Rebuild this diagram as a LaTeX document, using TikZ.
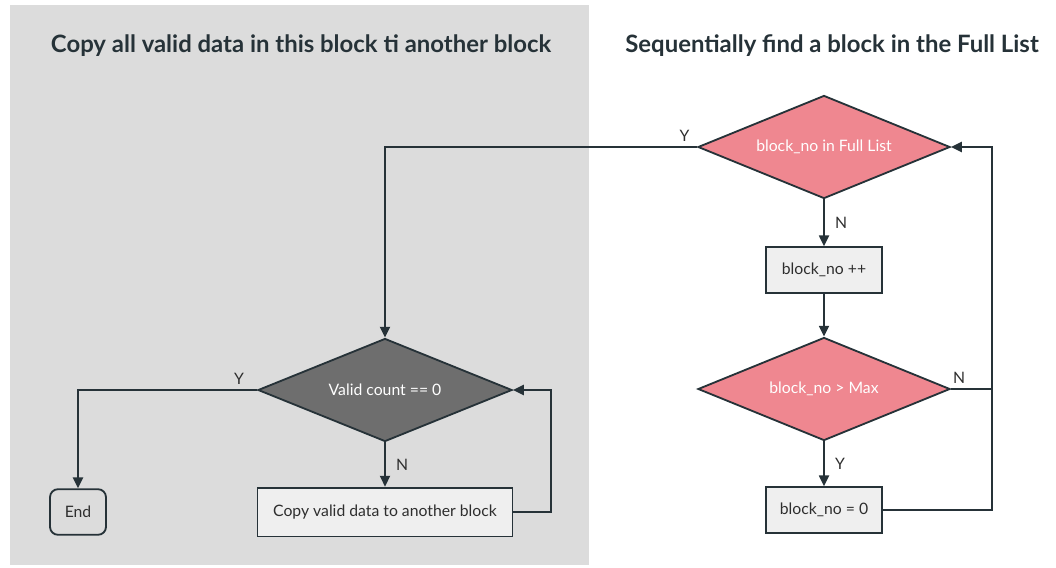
\documentclass[tikz,border=0pt]{standalone}
\usepackage{fontspec}
\setmainfont{Lato}
\usetikzlibrary{shapes.geometric,arrows.meta}
\definecolor{linecol}{HTML}{263238}
\definecolor{panelgray}{HTML}{DCDCDC}
\definecolor{pinkfill}{HTML}{EF8790}
\definecolor{darkfill}{HTML}{6E6E6E}
\definecolor{boxfill}{HTML}{EFEFEF}
\definecolor{textcol}{HTML}{2E2E2E}
\tikzset{
  title/.style={font=\bfseries\fontsize{17pt}{20pt}\selectfont, text=linecol},
  decision/.style={diamond, draw=linecol, line width=1.3pt, inner sep=0pt,
    aspect=2.45, minimum width=6.3cm, minimum height=2.575cm, text=white,
    font=\fontsize{11.2pt}{13pt}\selectfont},
  stepbox/.style={rectangle, draw=linecol, line width=1.3pt, fill=boxfill,
    minimum width=2.9cm, minimum height=1.14cm, text=textcol,
    font=\fontsize{11.2pt}{13pt}\selectfont},
  endbox/.style={stepbox, rounded corners=0.2cm, minimum width=1.4cm, fill=none},
  flow/.style={draw=linecol, line width=1.3pt, -{Triangle[length=0.27cm,width=0.25cm]}},
  plain/.style={draw=linecol, line width=1.3pt},
  lbl/.style={text=textcol, font=\fontsize{11.2pt}{13pt}\selectfont}
}
\begin{document}
\begin{tikzpicture}[x=0.025cm,y=-0.025cm]
  \useasboundingbox (0,0) rectangle (1056,567);
  \fill[panelgray] (10,5) rectangle (589,565);

  \node[title] (lefttitle) at (301,46) {Copy all valid data in this block ti another block};
  \node[title] (righttitle) at (832,46) {Sequentially find a block in the Full List};

  \node[decision, fill=pinkfill] (infull) at (824,147) {block\_no in Full List};
  \node[stepbox] (incr) at (824,270) {block\_no ++};
  \node[decision, fill=pinkfill] (overmax) at (824,389) {block\_no > Max};
  \node[stepbox] (reset) at (824,510) {block\_no = 0};

  \node[decision, fill=darkfill, minimum width=6.35cm] (validzero) at (385,390) {Valid count == 0};
  \node[endbox] (end) at (78,512) {End};
  \node[stepbox, minimum width=6.375cm, minimum height=1.22cm] (copy) at (385,512) {Copy valid data to another block};

  \coordinate (rightloop) at (992,147);
  \coordinate (leftloop) at (551,390);

  \draw[flow] (infull.south) -- node[lbl, right=4pt] {N} (incr.north);
  \draw[flow] (incr.south) -- (overmax.north);
  \draw[flow] (overmax.south) -- node[lbl, right=4pt] {Y} (reset.north);
  \draw[flow] (reset.east) -| (rightloop) -- (infull.east);
  \draw[plain] (overmax.east) -- node[lbl, above, pos=0.2] {N} (overmax.east -| rightloop);
  \draw[flow] (infull.west) -| node[lbl, above, pos=0.02] {Y} (validzero.north);

  \draw[flow] (validzero.west) -| node[lbl, above, pos=0.05] {Y} (end.north);
  \draw[flow] (validzero.south) -- node[lbl, right=4pt] {N} (copy.north);
  \draw[flow] (copy.east) -| (leftloop) -- (validzero.east);
\end{tikzpicture}
\end{document}
